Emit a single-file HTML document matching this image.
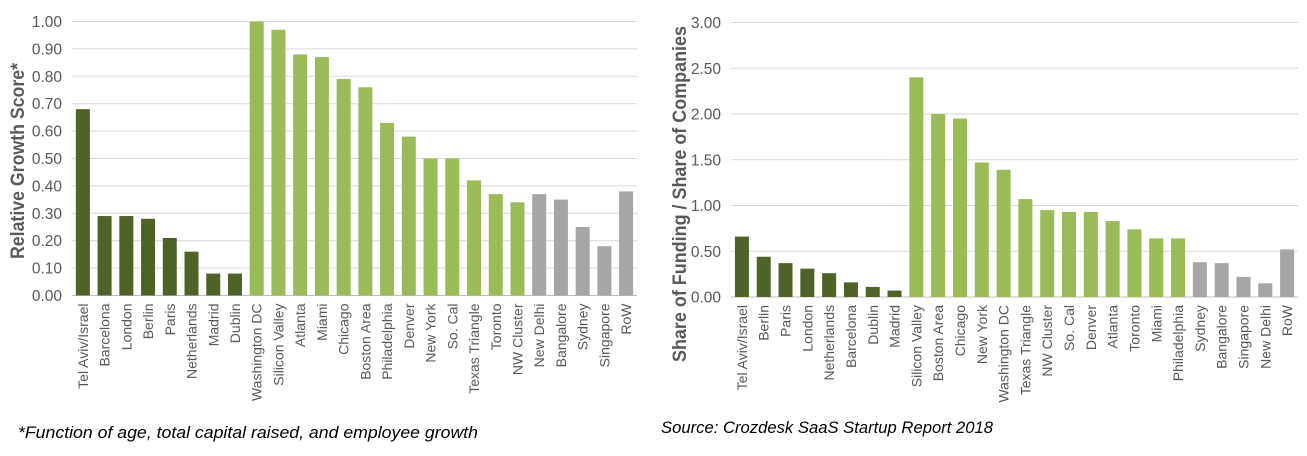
<!DOCTYPE html>
<html><head><meta charset="utf-8"><style>
body{margin:0;background:#fff;width:1307px;height:456px;overflow:hidden}
svg{display:block;font-family:"Liberation Sans",sans-serif}
</style></head><body>
<svg id="c" width="1307" height="456">
<text x="18" y="438" font-size="17" font-style="italic" fill="#000" textLength="460" lengthAdjust="spacingAndGlyphs">*Function of age, total capital raised, and employee growth</text>
<text x="661" y="433" font-size="17" font-style="italic" fill="#000" textLength="332" lengthAdjust="spacingAndGlyphs">Source: Crozdesk SaaS Startup Report 2018</text>
</svg>
<script>
const leftCats=["Tel Aviv/Israel","Barcelona","London","Berlin","Paris","Netherlands","Madrid","Dublin","Washington DC","Silicon Valley","Atlanta","Miami","Chicago","Boston Area","Philadelphia","Denver","New York","So. Cal","Texas Triangle","Toronto","NW Cluster","New Delhi","Bangalore","Sydney","Singapore","RoW"];
const leftVals=[0.68,0.29,0.29,0.28,0.21,0.16,0.08,0.08,1.00,0.97,0.88,0.87,0.79,0.76,0.63,0.58,0.50,0.50,0.42,0.37,0.34,0.37,0.35,0.25,0.18,0.38];
const leftGroups=[0,0,0,0,0,0,0,0,1,1,1,1,1,1,1,1,1,1,1,1,1,2,2,2,2,2];
const leftTicks=["0.00","0.10","0.20","0.30","0.40","0.50","0.60","0.70","0.80","0.90","1.00"];
const rightCats=["Tel Aviv/Israel","Berlin","Paris","London","Netherlands","Barcelona","Dublin","Madrid","Silicon Valley","Boston Area","Chicago","New York","Washington DC","Texas Triangle","NW Cluster","So. Cal","Denver","Atlanta","Toronto","Miami","Philadelphia","Sydney","Bangalore","Singapore","New Delhi","RoW"];
const rightVals=[0.66,0.44,0.37,0.31,0.26,0.16,0.11,0.07,2.40,2.00,1.95,1.47,1.39,1.07,0.95,0.93,0.93,0.83,0.74,0.64,0.64,0.38,0.37,0.22,0.15,0.52];
const rightGroups=[0,0,0,0,0,0,0,0,1,1,1,1,1,1,1,1,1,1,1,1,1,2,2,2,2,2];
const rightTicks=["0.00","0.50","1.00","1.50","2.00","2.50","3.00"];
const colors=["#4F6228","#9BBB59","#A6A6A6"];
const NS="http://www.w3.org/2000/svg";
const svg=document.getElementById('c');
function mk(t,a,p){const e=document.createElementNS(NS,t);for(const k in a)e.setAttribute(k,a[k]);(p||svg).appendChild(e);return e;}
function chart(id,cats,vals,groups,ticks,x0,x1,y0,y1,title,titleX,titleY,titleLen){
  const g=mk('g',{});
  
  
  const tmax=parseFloat(ticks[ticks.length-1]);
  const y=v=>y0-(v/tmax)*(y0-y1);
  const step=(x1-x0)/cats.length;
  const x=i=>x0+step*(i+0.5);
  ticks.forEach(t=>{
    const v=parseFloat(t);
    const l=mk('line',{x1:x0,x2:x1,y1:y(v),y2:y(v),stroke:v===0?'#BFBFBF':'#D9D9D9','stroke-width':1},g);
    
    
    const tx=mk('text',{x:x0-10,y:y(v)+5.5,'text-anchor':'end','font-size':15.5,fill:'#595959'},g);
    tx.textContent=t;
    
    
  });
  cats.forEach((c,i)=>{
    const r=mk('rect',{x:x(i)-7,y:y(vals[i]),width:14,height:y0-y(vals[i]),fill:colors[groups[i]]},g);
    
    
    const t=mk('text',{transform:`translate(${x(i)+5},${y0+8}) rotate(-90)`,'text-anchor':'end','font-size':14,fill:'#595959'},g);
    t.textContent=c;
    
    
  });
  const tt=mk('text',{transform:`translate(${titleX},${titleY}) rotate(-90)`,'text-anchor':'middle','font-size':19,'font-weight':'bold',fill:'#595959',textLength:titleLen,lengthAdjust:'spacingAndGlyphs'},g);
  tt.textContent=title;
  
  
}
chart('growth-score-chart',leftCats,leftVals,leftGroups,leftTicks,72,637,295.5,21.5,'Relative Growth Score*',24,161,196);
chart('funding-share-chart',rightCats,rightVals,rightGroups,rightTicks,731,1298,297,22.5,'Share of Funding / Share of Companies',686,194,336);
</script>
</body></html>
